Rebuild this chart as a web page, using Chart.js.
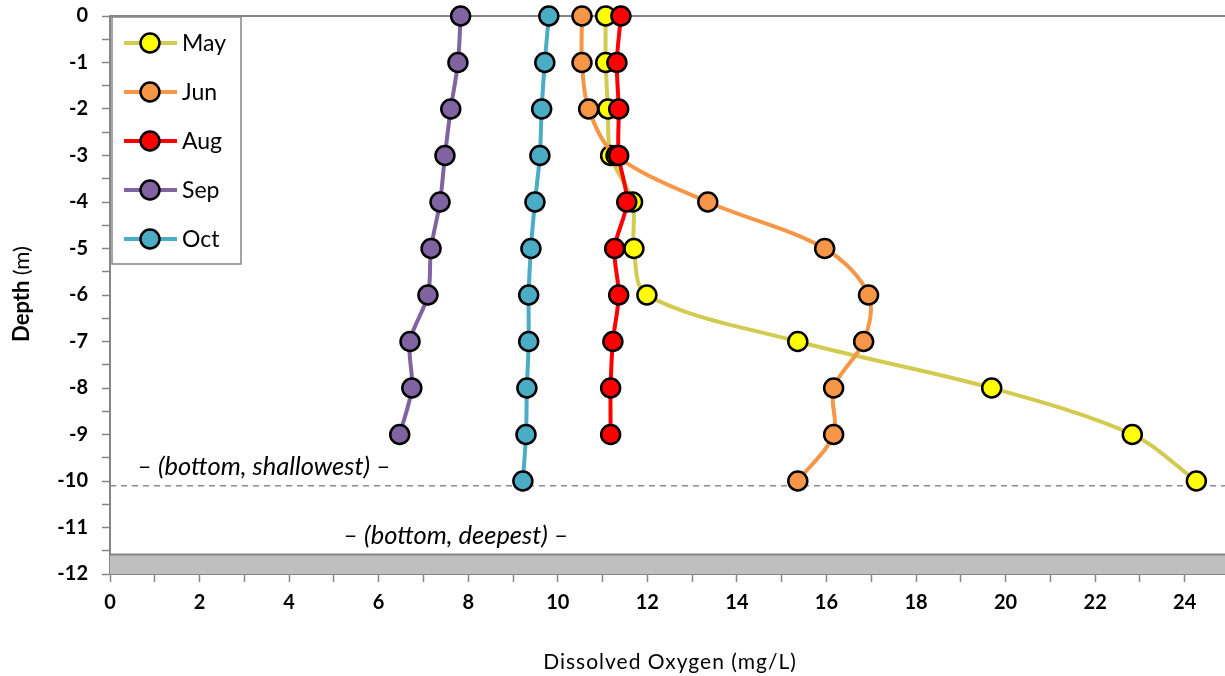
<!DOCTYPE html>
<html>
<head>
<meta charset="utf-8">
<script src="https://cdn.jsdelivr.net/npm/chart.js@4/dist/chart.umd.min.js"></script>
<style>
  body { margin: 0; background: #fff; }
  canvas { display: block; }
</style>
</head>
<body>
<canvas id="doChart" width="1225" height="676"></canvas>
<script>
// depth profile, dissolved oxygen in mg/L
const depths = [0, -1, -2, -3, -4, -5, -6, -7, -8, -9, -10];
const months = ["May", "Jun", "Aug", "Sep", "Oct"];
const mayDO = [11.07, 11.07, 11.12, 11.18, 11.67, 11.7, 11.99, 15.36, 19.69, 22.83, 24.26];
const junDO = [10.54, 10.54, 10.69, 11.3, 13.35, 15.96, 16.94, 16.83, 16.16, 16.16, 15.36];
const augDO = [11.41, 11.32, 11.36, 11.36, 11.54, 11.27, 11.36, 11.23, 11.18, 11.18];
const sepDO = [7.83, 7.77, 7.61, 7.48, 7.37, 7.17, 7.1, 6.7, 6.74, 6.47];
const octDO = [9.8, 9.71, 9.64, 9.6, 9.49, 9.4, 9.35, 9.35, 9.31, 9.29, 9.22];
const xTickValues = [0, 1, 2, 3, 4, 5, 6, 7, 8, 9, 10, 11, 12, 13, 14, 15, 16, 17, 18, 19, 20, 21, 22, 23, 24];

const bottomShallow = -10.1;
const bottomDeep = -11.58;

const lineColors = ["#d3cb4f", "#f79646", "#ff0000", "#8064a2", "#4bacc6"];
const markerColors = ["#ffff00", "#f79646", "#ff0000", "#8064a2", "#4bacc6"];
const FONT = "Lato, 'Open Sans', sans-serif";

function profile(values) {
    return values.map((v, i) => ({ x: v, y: depths[i] }));
}

const series = [mayDO, junDO, augDO, sepDO, octDO];
const datasets = series.map((vals, i) => ({
    label: months[i],
    data: profile(vals),
    borderColor: lineColors[i],
    backgroundColor: markerColors[i],
    pointBackgroundColor: markerColors[i],
    pointBorderColor: "#000",
    pointBorderWidth: 2.5,
    pointRadius: 9.5,
    borderWidth: 4,
    tension: 0.33,
    clip: false,
    order: series.length - i,
}));

function noOverflow(scale) {
    scale.paddingTop = 0;
    scale.paddingBottom = 0;
    scale.paddingLeft = 0;
    scale.paddingRight = 0;
}

const overlay = {
    id: "overlay",
    beforeDatasetsDraw(chart) {
        const { ctx, chartArea: a, scales: { y } } = chart;
        ctx.save();
        // ground band
        const yDeep = y.getPixelForValue(bottomDeep);
        ctx.fillStyle = "#bfbfbf";
        ctx.fillRect(a.left, yDeep, a.right - a.left, a.bottom - yDeep);
        ctx.strokeStyle = "#868686";
        ctx.lineWidth = 2;
        ctx.beginPath();
        ctx.moveTo(a.left, yDeep);
        ctx.lineTo(a.right, yDeep);
        ctx.stroke();
        // surface line
        ctx.beginPath();
        ctx.moveTo(a.left, a.top);
        ctx.lineTo(a.right, a.top);
        ctx.stroke();
        // shallowest bottom
        const yShallow = y.getPixelForValue(bottomShallow);
        ctx.setLineDash([6, 5]);
        ctx.lineWidth = 1.5;
        ctx.strokeStyle = "#8c8c8c";
        ctx.beginPath();
        ctx.moveTo(a.left, yShallow);
        ctx.lineTo(a.right, yShallow);
        ctx.stroke();
        ctx.setLineDash([]);
        ctx.fillStyle = "#000";
        ctx.font = "italic 25.5px " + FONT;
        ctx.textAlign = "center";
        ctx.textBaseline = "middle";
        ctx.fillText("\u2013 (bottom, shallowest) \u2013", 264, 467);
        ctx.fillText("\u2013 (bottom, deepest) \u2013", 456, 536);
        ctx.restore();
    },
    afterDraw(chart) {
        const { ctx } = chart;
        ctx.save();
        // legend box
        ctx.fillStyle = "#fff";
        ctx.fillRect(112, 17, 129, 247);
        ctx.strokeStyle = "#868686";
        ctx.lineWidth = 1.5;
        ctx.strokeRect(112, 17, 129, 247);
        chart.data.datasets.forEach((ds, i) => {
            const cy = 43 + i * 49;
            ctx.strokeStyle = ds.borderColor;
            ctx.lineWidth = 4;
            ctx.beginPath();
            ctx.moveTo(124, cy);
            ctx.lineTo(177, cy);
            ctx.stroke();
            ctx.beginPath();
            ctx.arc(150, cy, 9.5, 0, Math.PI * 2);
            ctx.fillStyle = ds.pointBackgroundColor;
            ctx.fill();
            ctx.lineWidth = 2.5;
            ctx.strokeStyle = "#000";
            ctx.stroke();
            ctx.fillStyle = "#000";
            ctx.font = "23px " + FONT;
            ctx.textAlign = "left";
            ctx.textBaseline = "middle";
            ctx.fillText(ds.label, 182, cy + 1);
        });
        // axis titles
        ctx.fillStyle = "#000";
        ctx.font = "21px " + FONT;
        ctx.letterSpacing = "1px";
        ctx.textAlign = "center";
        ctx.textBaseline = "middle";
        ctx.fillText("Dissolved Oxygen (mg/L)", 670, 662);
        ctx.letterSpacing = "0px";
        ctx.translate(22, 294);
        ctx.rotate(-Math.PI / 2);
        const bold = "Depth ";
        ctx.font = "bold 22px " + FONT;
        const wb = ctx.measureText(bold).width;
        ctx.font = "22px " + FONT;
        const wr = ctx.measureText("(m)").width;
        ctx.textAlign = "left";
        ctx.font = "bold 22px " + FONT;
        ctx.fillText(bold, -(wb + wr) / 2, 0);
        ctx.font = "22px " + FONT;
        ctx.fillText("(m)", -(wb + wr) / 2 + wb, 0);
        ctx.restore();
    },
};

new Chart(document.getElementById("doChart"), {
    type: "line",
    data: { datasets },
    options: {
        responsive: false,
        animation: false,
        layout: { autoPadding: false, padding: { top: 16, right: 0, left: 0, bottom: 0 } },
        plugins: { legend: { display: false }, tooltip: { enabled: false } },
        scales: {
            x: {
                type: "linear",
                min: 0,
                max: 24.9,
                afterFit(scale) { scale.height = 102; noOverflow(scale); },
                afterBuildTicks(scale) {
                    scale.ticks = xTickValues.map(v => ({ value: v }));
                },
                border: { color: "#868686", width: 2 },
                grid: { drawOnChartArea: false, tickLength: 8, tickColor: "#868686", tickWidth: 1.5 },
                ticks: {
                    padding: 9,
                    color: "#000",
                    font: { family: FONT, size: 20, weight: "bold" },
                    callback: v => (v % 2 === 0 ? String(v) : ""),
                    maxRotation: 0,
                    autoSkip: false,
                },
            },
            y: {
                type: "linear",
                min: -12,
                max: 0,
                afterFit(scale) { scale.width = 110; noOverflow(scale); },
                border: { color: "#868686", width: 2 },
                grid: { drawOnChartArea: false, tickLength: 8, tickColor: "#868686", tickWidth: 1.5 },
                ticks: {
                    stepSize: 0.5,
                    padding: 14,
                    color: "#000",
                    font: { family: FONT, size: 20, weight: "bold" },
                    callback: v => (Number.isInteger(v) ? String(v) : ""),
                    autoSkip: false,
                },
            },
        },
    },
    plugins: [overlay],
});
</script>
</body>
</html>
